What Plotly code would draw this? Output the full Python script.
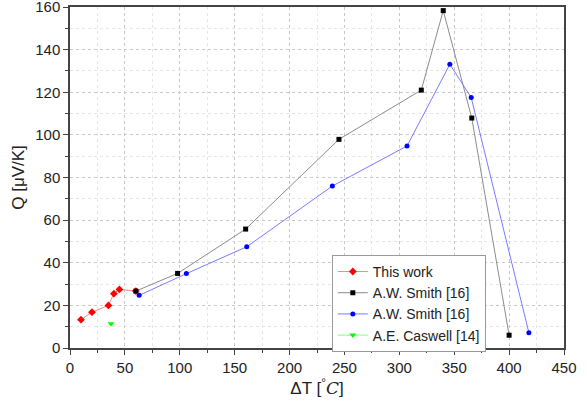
import plotly.graph_objects as go

# This work
tw_x = [10, 20, 35, 40, 45, 60]
tw_y = [13.3, 16.8, 20.0, 25.5, 27.5, 26.7]
# A.W. Smith [16] (black)
s1_x = [60, 98, 160, 245, 320, 340, 366, 400]
s1_y = [26.7, 35.0, 55.8, 97.9, 121.0, 158.3, 107.9, 6.0]
# A.W. Smith [16] (blue)
s2_x = [63, 106, 161, 239, 307, 346, 365.5, 418]
s2_y = [24.7, 34.9, 47.5, 76.0, 94.8, 133.1, 117.5, 7.2]
# A.E. Caswell [14]
c_x = [37.3]
c_y = [11.4]

fig = go.Figure()
fig.add_trace(go.Scatter(x=tw_x, y=tw_y, mode="lines+markers", name="This work",
                         line=dict(color="#f28a8a", width=1),
                         marker=dict(symbol="diamond", size=6, color="#ff0000")))
fig.add_trace(go.Scatter(x=s1_x, y=s1_y, mode="lines+markers", name="A.W. Smith [16]",
                         line=dict(color="#8c8c8c", width=1),
                         marker=dict(symbol="square", size=5, color="#000000")))
fig.add_trace(go.Scatter(x=s2_x, y=s2_y, mode="lines+markers", name="A.W. Smith [16]",
                         line=dict(color="#7b7bff", width=1),
                         marker=dict(symbol="circle", size=5, color="#0000ff")))
fig.add_trace(go.Scatter(x=c_x, y=c_y, mode="lines+markers", name="A.E. Caswell [14]",
                         line=dict(color="#80ff80", width=1),
                         marker=dict(symbol="triangle-down", size=6, color="#00ff00")))

axis_common = dict(
    showline=True, linecolor="#444444", linewidth=1.5, mirror=True,
    ticks="outside", ticklen=5, tickcolor="#444444", tickwidth=1,
    showgrid=True, gridcolor="#c8c8c8", griddash="dot", gridwidth=1,
    zeroline=False, automargin=False, ticklabeloverflow="allow",
    tickfont=dict(family="Liberation Sans, Arial", size=15, color="#222222"),
)

fig.update_xaxes(range=[0, 450], dtick=50, tick0=0,
                 minor=dict(dtick=25, ticks="outside", ticklen=3, tickcolor="#444444",
                            showgrid=True, gridcolor="#e6e6e6", griddash="dot"),
                 title=dict(text="ΔT [<sup>°</sup><span style=\"font-family:'DejaVu Serif', serif\"><i>C</i></span>]",
                            font=dict(family="Liberation Sans, Arial", size=17, color="#222222"),
                            standoff=2),
                 **axis_common)
fig.update_yaxes(range=[0, 160], dtick=20, tick0=0,
                 minor=dict(dtick=10, ticks="outside", ticklen=3, tickcolor="#444444",
                            showgrid=True, gridcolor="#e6e6e6", griddash="dot"),
                 title=dict(text="Q [μV/K]",
                            font=dict(family="Liberation Sans, Arial", size=17, color="#222222"),
                            standoff=6),
                 **axis_common)

fig.update_layout(
    width=587, height=406,
    margin=dict(l=70, r=23, t=7, b=58, autoexpand=False),
    plot_bgcolor="white", paper_bgcolor="white",
    legend=dict(x=0.53, y=0.273, xanchor="left", yanchor="top",
                bgcolor="white", bordercolor="#999999", borderwidth=1,
                font=dict(family="Liberation Sans, Arial", size=14, color="#222222"),
                tracegroupgap=0, itemwidth=30),
    showlegend=True,
)

fig.write_html("out.html", config={"displayModeBar": False},
               post_script="document.body.style.margin='0';document.body.style.padding='0';")
